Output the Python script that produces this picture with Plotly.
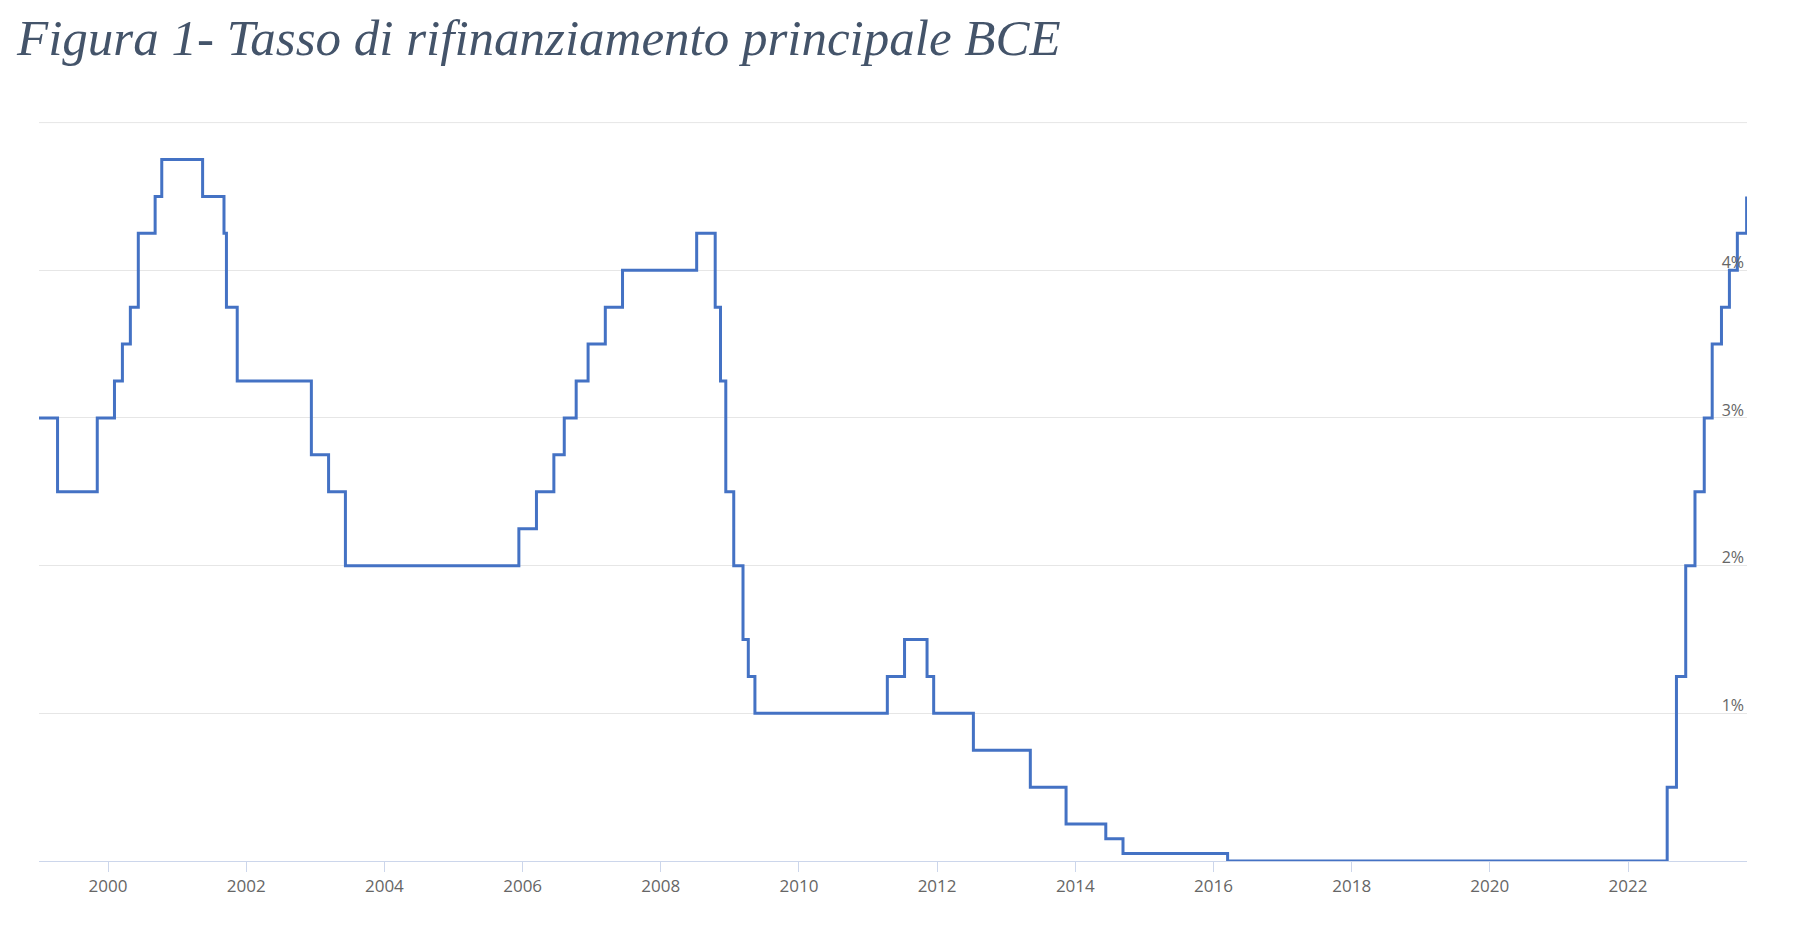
import plotly.graph_objects as go

dates = [
    "1999-01-01", "1999-04-09", "1999-11-05", "2000-02-04", "2000-03-17", "2000-04-28",
    "2000-06-09", "2000-09-06", "2000-10-11", "2001-05-15", "2001-09-05", "2001-09-18",
    "2001-11-14", "2002-12-11", "2003-03-12", "2003-06-09", "2005-12-12", "2006-03-15",
    "2006-06-15", "2006-08-09", "2006-10-11", "2006-12-13", "2007-03-14", "2007-06-13",
    "2008-07-09", "2008-10-15", "2008-11-12", "2008-12-10", "2009-01-21", "2009-03-11",
    "2009-04-08", "2009-05-13", "2011-04-13", "2011-07-13", "2011-11-09", "2011-12-14",
    "2012-07-11", "2013-05-08", "2013-11-13", "2014-06-11", "2014-09-10", "2016-03-16",
    "2022-07-27", "2022-09-14", "2022-11-02", "2022-12-21", "2023-02-08", "2023-03-22",
    "2023-05-10", "2023-06-21", "2023-08-02", "2023-09-20",
]
rates = [
    3.00, 2.50, 3.00, 3.25, 3.50, 3.75,
    4.25, 4.50, 4.75, 4.50, 4.25, 3.75,
    3.25, 2.75, 2.50, 2.00, 2.25, 2.50,
    2.75, 3.00, 3.25, 3.50, 3.75, 4.00,
    4.25, 3.75, 3.25, 2.50, 2.00, 1.50,
    1.25, 1.00, 1.25, 1.50, 1.25, 1.00,
    0.75, 0.50, 0.25, 0.15, 0.05, 0.00,
    0.50, 1.25, 2.00, 2.50, 3.00, 3.50,
    3.75, 4.00, 4.25, 4.50,
]
y_ticks = [0, 1, 2, 3, 4, 5]
y_labels = ["0%", "1%", "2%", "3%", "4%", ""]
title_text = "Figura 1- Tasso di rifinanziamento principale BCE"

fig = go.Figure()
fig.add_trace(go.Scatter(
    x=dates, y=rates, mode="lines", line=dict(shape="hv", color="#4472C4", width=3),
    hoverinfo="x+y", showlegend=False,
))

# top gridline (plotly omits the gridline at the exact range edge)
fig.add_shape(type="line", xref="paper", yref="y", x0=0, x1=1,
              y0=y_ticks[-1], y1=y_ticks[-1],
              line=dict(color="#e6e6e6", width=1), layer="below")

fig.update_layout(
    width=1800, height=934,
    margin=dict(l=39, r=53, t=122, b=73),
    paper_bgcolor="white", plot_bgcolor="white",
    title=dict(
        text=title_text, x=17 / 1800, xanchor="left", xref="container",
        y=1 - 19 / 934, yanchor="top", yref="container",
        font=dict(family="Liberation Serif", size=51, color="#44546A", style="italic"),
    ),
    xaxis=dict(
        type="date", range=["1999-01-01", "2023-09-22"],
        tick0="2000-01-01", dtick="M24", tickformat="%Y",
        showgrid=False, showline=True, linecolor="#ccd6eb", linewidth=1,
        ticks="outside", ticklen=10, tickcolor="#ccd6eb",
        tickfont=dict(family="Open Sans", size=17, color="#666666"),
        zeroline=False,
    ),
    yaxis=dict(
        range=[0, 5.004], tickvals=y_ticks, ticktext=y_labels,
        side="right", ticklabelposition="inside", ticklabelshift=-8,
        showgrid=True, gridcolor="#e6e6e6", gridwidth=1,
        zeroline=False, showline=False, ticks="",
        tickfont=dict(family="Open Sans", size=16, color="#666666"),
    ),
)

fig.write_html("out.html", config={"displayModeBar": False},
               post_script="document.body.style.margin='0';document.body.style.overflow='hidden';")
